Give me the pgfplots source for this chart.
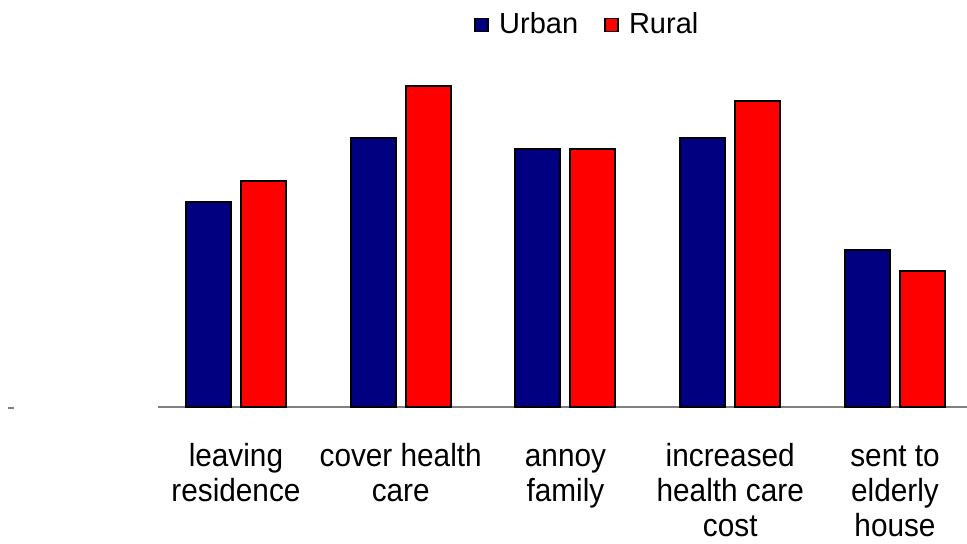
\documentclass[border=0pt]{standalone}
\usepackage{pgfplots}
\pgfplotsset{compat=1.18}
\usepackage{fontspec}
\setmainfont{Liberation Sans}
\newfontfamily\narrowfont{Liberation Sans}[FakeStretch=0.93]
\definecolor{urban}{HTML}{000080}
\definecolor{rural}{HTML}{FF0000}
\definecolor{axisgray}{HTML}{808080}

\begin{document}
\begin{tikzpicture}
\useasboundingbox (0pt,0pt) rectangle (483.5pt,272pt);
% stray tick left of the plot area
\draw[axisgray, line width=1pt] (4pt,68pt) -- (7pt,68pt);
\begin{axis}[
  at={(79pt,68.5pt)}, anchor=south west,
  scale only axis,
  width=404.5pt, height=178.5pt,
  ymin=0, ymax=35.7,
  xmin=-0.473, xmax=4.437,
  axis y line=none,
  axis x line*=bottom,
  x axis line style={axisgray, line width=1pt, -},
  xtick={0,1,2,3,4},
  xticklabels={\strut leaving\\\strut residence, \strut cover health\\\strut care, \strut annoy\\\strut family, \strut increased\\\strut health care\\\strut cost, \strut sent to\\\strut elderly\\\strut house},
  xticklabel style={align=center, font=\narrowfont\fontsize{16pt}{17.5pt}\selectfont, yshift=-14pt},
  major tick length=0pt,
  ybar=5pt, bar width=22.5pt,
  legend style={at={(0.532,1.07)}, anchor=center, draw=none, fill=none,
    font=\fontsize{14.5pt}{17pt}\selectfont, legend columns=2,
    /tikz/every even column/.append style={column sep=11pt}},
  legend image code/.code={\draw[#1, line width=0.8pt] (0pt,-3.2pt) rectangle (6.4pt,3.2pt);
    \path[draw=none, fill=none] (0pt,0pt) rectangle (10pt,0.1pt);},
  clip=false,
]
\addplot[fill=urban, draw=black, line width=1pt] coordinates {(0,20.5) (1,26.9) (2,25.8) (3,26.9) (4,15.7)};
\addplot[fill=rural, draw=black, line width=1pt] coordinates {(0,22.6) (1,32.1) (2,25.8) (3,30.6) (4,13.6)};
\legend{Urban, Rural}
\end{axis}
\end{tikzpicture}
\end{document}
